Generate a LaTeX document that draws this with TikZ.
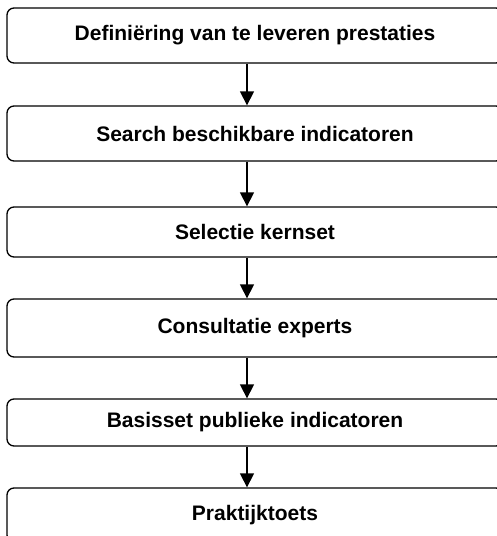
\documentclass[tikz,border=0pt]{standalone}
\usepackage{fontspec}
\setmainfont{Liberation Sans}
\usetikzlibrary{arrows.meta}
\begin{document}
\begin{tikzpicture}[x=1pt,y=-1pt,
  stepbox/.style={draw=black,line width=1.3pt,rounded corners=7pt,
    minimum width=496pt,inner sep=0pt,fill=white,
    font=\fontsize{21}{25}\selectfont\bfseries},
  flow/.style={line width=1.3pt,-{Triangle[width=14pt,length=14pt]}}]
\useasboundingbox (0,0) rectangle (497,536);
\clip (0,0) rectangle (497,536);
\coordinate (ax) at (247,0);
\node[stepbox,minimum height=55pt] (b1) at (255,35.5) {Definiëring van te leveren prestaties};
\node[stepbox,minimum height=55pt] (b2) at (255,133.5) {Search beschikbare indicatoren};
\node[stepbox,minimum height=50pt] (b3) at (255,232) {Selectie kernset};
\node[stepbox,minimum height=58pt] (b4) at (255,328) {Consultatie experts};
\node[stepbox,minimum height=47pt] (b5) at (255,422.5) {Basisset publieke indicatoren};
\node[stepbox,minimum height=54pt] (b6) at (255,515) {Praktijktoets};
\draw[flow] (b1.south -| ax) -- (b2.north -| ax);
\draw[flow] (b2.south -| ax) -- (b3.north -| ax);
\draw[flow] (b3.south -| ax) -- (b4.north -| ax);
\draw[flow] (b4.south -| ax) -- (b5.north -| ax);
\draw[flow] (b5.south -| ax) -- (b6.north -| ax);
\end{tikzpicture}
\end{document}
